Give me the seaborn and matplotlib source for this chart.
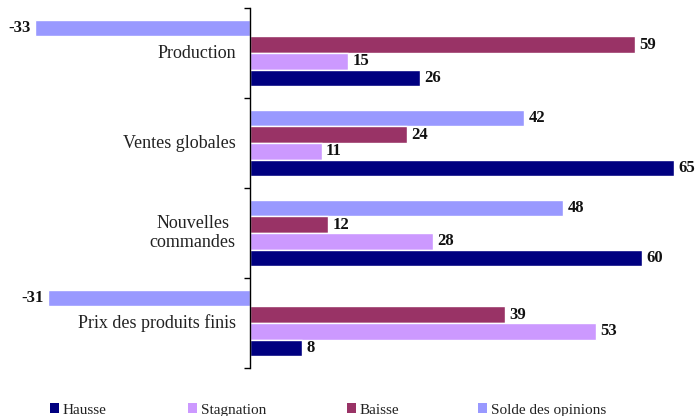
import numpy as np
import pandas as pd
import matplotlib
matplotlib.use("Agg")
import matplotlib.pyplot as plt
from matplotlib.patches import Patch
import seaborn as sns

# data (percent of answers)
categories = ["Production", "Ventes globales", "Nouvelles\ncommandes", "Prix des produits finis"]
hausse = [26, 65, 60, 8]
stagnation = [15, 11, 28, 53]
baisse = [59, 24, 12, 39]
solde = [-33, 42, 48, -31]

series_names = ["Hausse", "Stagnation", "Baisse", "Solde des opinions"]
colors = {"Hausse": "#000080", "Stagnation": "#CC99FF",
          "Baisse": "#993366", "Solde des opinions": "#9999FF"}

df = pd.DataFrame({
    "categorie": categories * 4,
    "serie": np.repeat(series_names, len(categories)),
    "valeur": hausse + stagnation + baisse + solde,
})

sns.set_style("white")
plt.rcParams["font.family"] = ["Liberation Serif", "DejaVu Serif"]

fig = plt.figure(figsize=(6.96, 4.16), dpi=100)
ax = fig.add_axes([0, 1 - 368 / 416, 1, 360 / 416])

# top to bottom inside each group: solde, baisse, stagnation, hausse
sns.barplot(data=df, x="valeur", y="categorie", hue="serie",
            order=categories,
            hue_order=["Solde des opinions", "Baisse", "Stagnation", "Hausse"],
            palette=colors, saturation=1, width=0.74, orient="h",
            legend=False, ax=ax)

for cont in ax.containers:
    ax.bar_label(cont, padding=3, fontsize=12, fontweight="bold", color="#111111")

ax.set_xlim(-38.3, 68.3)
ax.set_ylim(3.5, -0.5)
ax.set_xlabel("")
ax.set_ylabel("")
ax.set_xticks([])

for s in ["top", "right", "bottom"]:
    ax.spines[s].set_visible(False)
ax.spines["left"].set_position(("data", 0))
ax.spines["left"].set_color("black")
ax.spines["left"].set_linewidth(1)
ax.set_yticks(np.arange(-0.5, 4, 1))
ax.set_yticklabels([])
ax.tick_params(axis="y", direction="out", length=4, width=1, color="black", left=True)

# category names next to the axis
for i, cat in enumerate(categories):
    ax.text(-2.2, i, cat, ha="right", va="center", multialignment="center",
            fontsize=13, color="#222222")

# legend entries placed like the original (uneven spacing)
legend_x = [50, 188, 347, 478]
for name, lx in zip(series_names, legend_x):
    fig.legend([Patch(facecolor=colors[name], edgecolor="none")], [name],
               loc="center left", bbox_to_anchor=(lx / 696, 1 - 410 / 416),
               frameon=False, fontsize=11, handlelength=0.6, handleheight=0.6,
               handletextpad=0.25, borderpad=0, borderaxespad=0,
               labelcolor="#222222")

fig.savefig("out.png", dpi=100)
